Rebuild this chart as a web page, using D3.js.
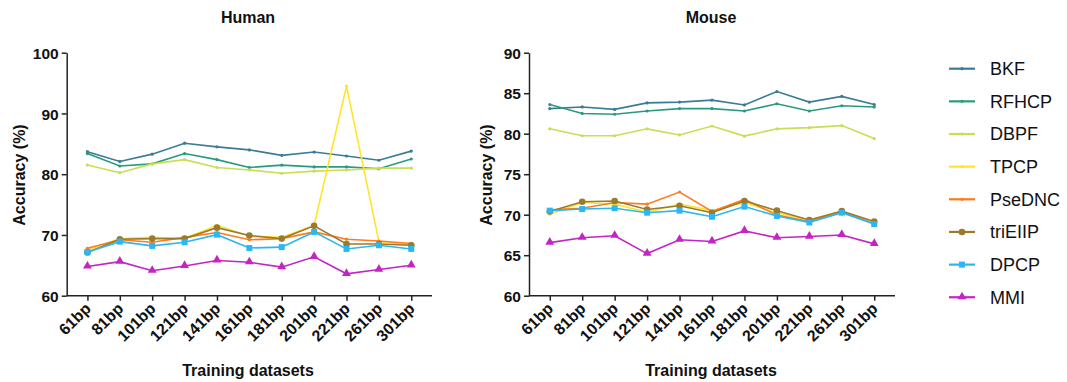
<!DOCTYPE html>
<html>
<head>
<meta charset="utf-8">
<script src="https://cdn.jsdelivr.net/npm/d3@7"></script>
<style>
  body { margin: 0; background: #fff; }
  text { font-family: "Liberation Sans", Arial, sans-serif; fill: #111; }
</style>
</head>
<body>
<svg id="chart" width="1067" height="382"></svg>
<script>
const categories = ["61bp","81bp","101bp","121bp","141bp","161bp","181bp","201bp","221bp","261bp","301bp"];
const methods = ["BKF","RFHCP","DBPF","TPCP","PseDNC","triEIIP","DPCP","MMI"];

// Human accuracy (%)
const humanBKF     = [83.7, 82.1, 83.3, 85.1, 84.5, 84.0, 83.1, 83.65, 83.0, 82.3, 83.8];
const humanRFHCP   = [83.4, 81.35, 81.7, 83.4, 82.4, 81.1, 81.5, 81.2, 81.2, 80.9, 82.5];
const humanDBPF    = [81.5, 80.25, 81.7, 82.4, 81.1, 80.7, 80.15, 80.5, 80.7, 81.0, 81.0];
const humanTPCP    = [67.5, 69.4, 69.6, 69.4, 71.6, 69.8, 69.6, 71.6, 94.5, 68.9, 68.3];
const humanPseDNC  = [67.8, 69.2, 68.8, 69.6, 70.4, 69.2, 69.4, 70.5, 69.3, 69.0, 68.6];
const humanTriEIIP = [67.1, 69.3, 69.4, 69.4, 71.2, 69.9, 69.4, 71.5, 68.5, 68.5, 68.3];
const humanDPCP    = [67.2, 68.9, 68.2, 68.8, 70.05, 67.85, 68.0, 70.5, 67.7, 68.3, 67.7];
const humanMMI     = [64.8, 65.6, 64.1, 64.9, 65.8, 65.5, 64.7, 66.4, 63.6, 64.3, 65.0];

// Mouse accuracy (%)
const mouseBKF     = [83.1, 83.3, 83.0, 83.8, 83.9, 84.15, 83.55, 85.2, 83.9, 84.6, 83.6];
const mouseRFHCP   = [83.6, 82.5, 82.4, 82.8, 83.1, 83.1, 82.8, 83.7, 82.8, 83.45, 83.3];
const mouseDBPF    = [80.6, 79.75, 79.75, 80.6, 79.85, 80.95, 79.7, 80.6, 80.75, 81.0, 79.4];
const mouseTPCP    = [70.05, 71.5, 71.3, 70.3, 71.3, 70.5, 71.5, 70.2, 69.35, 70.4, 69.0];
const mousePseDNC  = [70.6, 70.8, 71.5, 71.3, 72.8, 70.4, 71.9, 69.95, 69.15, 70.4, 68.85];
const mouseTriEIIP = [70.4, 71.6, 71.7, 70.65, 71.1, 70.25, 71.7, 70.5, 69.35, 70.45, 69.15];
const mouseDPCP    = [70.5, 70.7, 70.8, 70.25, 70.5, 69.75, 71.0, 69.85, 69.05, 70.25, 68.85];
const mouseMMI     = [66.55, 67.15, 67.4, 65.2, 66.9, 66.7, 68.0, 67.15, 67.3, 67.5, 66.4];

const humanTicks = [60, 70, 80, 90, 100];
const mouseTicks = [60, 65, 70, 75, 80, 85, 90];

const humanSeries = [humanBKF, humanRFHCP, humanDBPF, humanTPCP, humanPseDNC, humanTriEIIP, humanDPCP, humanMMI];
const mouseSeries = [mouseBKF, mouseRFHCP, mouseDBPF, mouseTPCP, mousePseDNC, mouseTriEIIP, mouseDPCP, mouseMMI];

const colors = ["#3a7b98", "#2a9a7e", "#c6df55", "#ffe52a", "#ff7a1c", "#9a7a2c", "#2bb6f5", "#c424c4"];
const shapes = ["dot", "dot", "dot", "dot", "dot", "circle", "square", "triangle"];

const svg = d3.select("#chart");

function drawMarker(g, shape, color, x, y) {
  if (shape === "circle") {
    g.append("circle").attr("cx", x).attr("cy", y).attr("r", 3.3).attr("fill", color);
  } else if (shape === "square") {
    g.append("rect").attr("x", x - 3).attr("y", y - 3).attr("width", 6).attr("height", 6).attr("fill", color);
  } else if (shape === "triangle") {
    g.append("path").attr("d", d3.symbol(d3.symbolTriangle, 34)()).attr("transform", "translate(" + x + "," + (y - 0.5) + ")").attr("fill", color);
  } else {
    g.append("circle").attr("cx", x).attr("cy", y).attr("r", 1.6).attr("fill", color);
  }
}

function drawPanel(opts) {
  const x = d3.scalePoint().domain(categories).range([opts.left, opts.right]).padding(0.64);
  const y = d3.scaleLinear().domain([opts.ticks[0], opts.ticks[opts.ticks.length - 1]]).range([295.7, 52.7]);
  const g = svg.append("g");

  const yAxis = g.append("g").attr("transform", "translate(" + opts.left + ",0)")
    .call(d3.axisLeft(y).tickValues(opts.ticks).tickSize(5).tickPadding(3).tickSizeOuter(0));
  yAxis.selectAll("text").style("font-size", "15.5px").style("font-weight", "bold").attr("dy", "0.36em");

  const xAxis = g.append("g").attr("transform", "translate(0,295.7)")
    .call(d3.axisBottom(x).tickSize(5).tickSizeOuter(0));
  xAxis.select(".domain").attr("d", "M" + opts.left + ",0H" + opts.right);
  xAxis.selectAll("text")
    .style("font-size", "16px").style("font-weight", "bold")
    .attr("text-anchor", "end")
    .attr("y", 0).attr("dy", 0)
    .attr("transform", "translate(4,14) rotate(-45)");

  g.selectAll(".domain, .tick line").attr("stroke", "#222").attr("stroke-width", 1.5);

  const line = d3.line().x((d, i) => x(categories[i])).y(d => y(d));

  opts.series.forEach(function(vals, k) {
    g.append("path").datum(vals)
      .attr("d", line)
      .attr("fill", "none")
      .attr("stroke", colors[k])
      .attr("stroke-width", 1.6);
    vals.forEach(function(v, i) {
      drawMarker(g, shapes[k], colors[k], x(categories[i]), y(v));
    });
  });

  g.append("text").attr("x", opts.cx).attr("y", 23)
    .attr("text-anchor", "middle").style("font-size", "16px").style("font-weight", "bold")
    .text(opts.title);

  g.append("text").attr("transform", "translate(" + opts.ylabelX + ",175) rotate(-90)")
    .attr("text-anchor", "middle").style("font-size", "16px").style("font-weight", "bold")
    .text("Accuracy (%)");

  g.append("text").attr("x", opts.cx).attr("y", 376)
    .attr("text-anchor", "middle").style("font-size", "16px").style("font-weight", "bold")
    .text("Training datasets");
}

drawPanel({ left: 66.7, right: 432, ticks: humanTicks, series: humanSeries, title: "Human", cx: 248, ylabelX: 25 });
drawPanel({ left: 529, right: 895, ticks: mouseTicks, series: mouseSeries, title: "Mouse", cx: 711, ylabelX: 492 });

// legend
const legend = svg.append("g");
methods.forEach(function(name, k) {
  const ly = 68.7 + k * 32.65;
  legend.append("line").attr("x1", 949).attr("x2", 975).attr("y1", ly).attr("y2", ly)
    .attr("stroke", colors[k]).attr("stroke-width", 2.2);
  drawMarker(legend, shapes[k], colors[k], 962, ly);
  legend.append("text").attr("x", 990).attr("y", ly).attr("dy", "0.36em")
    .style("font-size", "18px").text(name);
});
</script>
</body>
</html>
